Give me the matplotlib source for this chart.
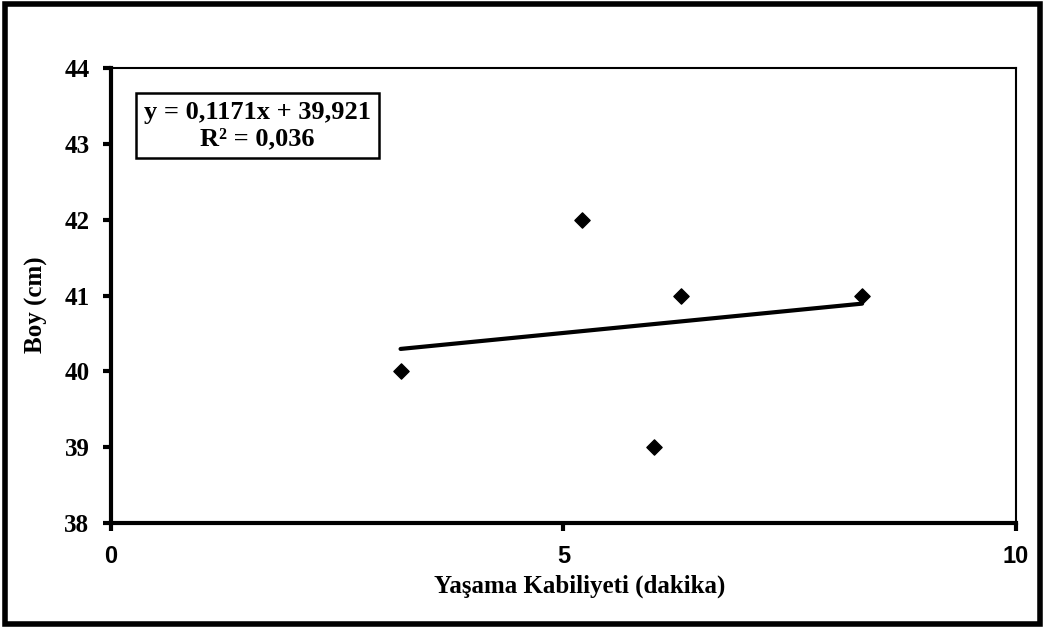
import numpy as np
import matplotlib.pyplot as plt
from matplotlib.patches import Rectangle

# data
yasama = [3.2, 5.2, 6.3, 6.0, 8.3]
boy = [40, 42, 41, 39, 41]
x_ticks = [0, 5, 10]
y_ticks = [38, 39, 40, 41, 42, 43, 44]

slope, intercept = np.polyfit(yasama, boy, 1)
r2 = np.corrcoef(yasama, boy)[0, 1] ** 2

serif = ['Liberation Serif', 'DejaVu Serif']
sans = ['Liberation Sans', 'DejaVu Sans']

fig = plt.figure(figsize=(10.45, 6.28), dpi=100)
ax = fig.add_axes([0.1062, 0.1672, 0.8660, 0.7245])

ax.scatter(yasama, boy, marker='D', s=60, color='black', zorder=3)
xs = np.array([min(yasama), max(yasama)])
ax.plot(xs, slope * xs + intercept, color='black', lw=3, solid_capstyle='round')

ax.set_xlim(0, 10)
ax.set_ylim(38, 44)
ax.set_xticks(x_ticks)
ax.set_yticks(y_ticks)
ax.set_xticklabels([str(t) for t in x_ticks], fontfamily=sans, fontweight='bold', fontsize=17)
ax.set_yticklabels([str(t) for t in y_ticks], fontfamily=serif, fontweight='bold', fontsize=18)
ax.tick_params(axis='both', direction='out', length=5.5, width=3, color='black')
ax.tick_params(axis='x', pad=10)
ax.tick_params(axis='y', pad=10)

for side in ['left', 'bottom']:
    ax.spines[side].set_linewidth(3)
for side in ['top', 'right']:
    ax.spines[side].set_linewidth(1.5)

ax.set_xlabel('Yaşama Kabiliyeti (dakika)', fontfamily=serif, fontweight='bold', fontsize=18)
ax.xaxis.set_label_coords(0.518, -0.114)
ax.set_ylabel('Boy (cm)', fontfamily=serif, fontweight='bold', fontsize=18)
ax.yaxis.set_label_coords(-0.0696, 0.479)

eq = f'y = {slope:.4f}x + {intercept:.3f}'.replace('.', ',')
r2txt = f'R² = {r2:.3f}'.replace('.', ',')
ax.text(0.162, 0.8736, eq + '\n' + r2txt, transform=ax.transAxes, ha='center', va='center',
        fontfamily=serif, fontweight='bold', fontsize=19, linespacing=1.18,
        bbox=dict(boxstyle='square,pad=0.3', facecolor='white', edgecolor='black', linewidth=1.8))

fig.patches.append(Rectangle((0.005, 0.006), 0.99, 0.988, transform=fig.transFigure,
                             fill=False, edgecolor='black', linewidth=4))

fig.savefig('out.png', dpi=100)
